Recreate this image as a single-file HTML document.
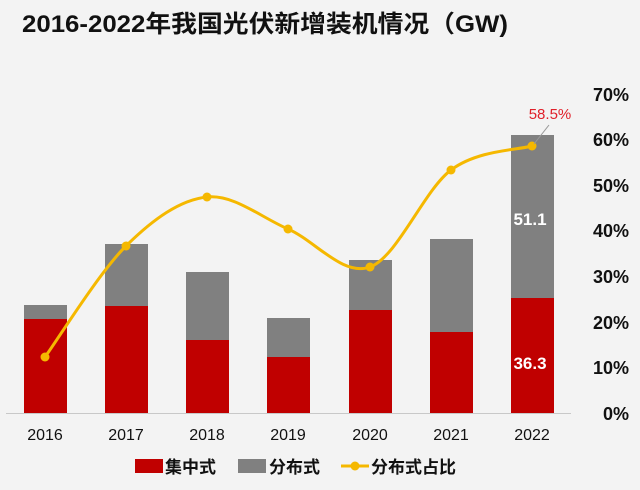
<!DOCTYPE html>
<html><head><meta charset="utf-8"><style>
html,body{margin:0;padding:0;background:#f3f3f3;}
svg{display:block}
text{font-family:"Liberation Sans","Noto Sans CJK SC",sans-serif;}
</style></head><body>
<svg width="640" height="490" viewBox="0 0 640 490" xmlns="http://www.w3.org/2000/svg">
<rect width="640" height="490" fill="#f3f3f3"/>
<text x="22" y="32" font-size="24" font-weight="bold" fill="#111" textLength="486" lengthAdjust="spacingAndGlyphs">2016-2022年我国光伏新增装机情况（GW)</text>
<g fill="#808080">
<rect x="24" y="305" width="43" height="14"/>
<rect x="105" y="244" width="43" height="62"/>
<rect x="186" y="272" width="43" height="68"/>
<rect x="267" y="318" width="43" height="39"/>
<rect x="349" y="260" width="43" height="50"/>
<rect x="430" y="239" width="43" height="93"/>
<rect x="511" y="135" width="43" height="163"/>
</g>
<g fill="#c00000">
<rect x="24" y="319" width="43" height="94"/>
<rect x="105" y="306" width="43" height="107"/>
<rect x="186" y="340" width="43" height="73"/>
<rect x="267" y="357" width="43" height="56"/>
<rect x="349" y="310" width="43" height="103"/>
<rect x="430" y="332" width="43" height="81"/>
<rect x="511" y="298" width="43" height="115"/>
</g>
<line x1="6" y1="413.5" x2="571" y2="413.5" stroke="#c8c8c8" stroke-width="1"/>
<path d="M45,357 C58.5,338.5 99,272.7 126,246 C153,219.3 180,199.8 207,197 C234,194.2 260.8,217.3 288,229 C315.2,240.7 342.8,276.8 370,267 C397.2,257.2 424,190.2 451,170 C478,149.8 518.5,150 532,146" fill="none" stroke="#f5b800" stroke-width="3"/>
<g fill="#f5b800">
<circle cx="45" cy="357" r="4.5"/><circle cx="126" cy="246" r="4.5"/><circle cx="207" cy="197" r="4.5"/><circle cx="288" cy="229" r="4.5"/><circle cx="370" cy="267" r="4.5"/><circle cx="451" cy="170" r="4.5"/><circle cx="532" cy="146" r="4.5"/>
</g>
<line x1="534" y1="144" x2="549" y2="125" stroke="#999" stroke-width="1"/>
<text x="550" y="119" font-size="15" fill="#e0202a" text-anchor="middle">58.5%</text>
<text x="530" y="225" font-size="17" font-weight="bold" fill="#fff" text-anchor="middle">51.1</text>
<text x="530" y="369" font-size="17" font-weight="bold" fill="#fff" text-anchor="middle">36.3</text>
<g font-size="18" font-weight="bold" fill="#111" text-anchor="end">
<text x="629" y="420">0%</text>
<text x="629" y="374">10%</text>
<text x="629" y="329">20%</text>
<text x="629" y="283">30%</text>
<text x="629" y="237">40%</text>
<text x="629" y="192">50%</text>
<text x="629" y="146">60%</text>
<text x="629" y="101">70%</text>
</g>
<g font-size="16" fill="#111" text-anchor="middle">
<text x="45" y="440">2016</text><text x="126" y="440">2017</text><text x="207" y="440">2018</text><text x="288" y="440">2019</text><text x="370" y="440">2020</text><text x="451" y="440">2021</text><text x="532" y="440">2022</text>
</g>
<rect x="135" y="459" width="28" height="14" fill="#c00000"/>
<text x="165" y="473" font-size="17" font-weight="bold" fill="#111">集中式</text>
<rect x="238" y="459" width="28" height="14" fill="#808080"/>
<text x="269" y="473" font-size="17" font-weight="bold" fill="#111">分布式</text>
<line x1="341" y1="466" x2="369" y2="466" stroke="#f5b800" stroke-width="3"/>
<circle cx="355" cy="466" r="4.5" fill="#f5b800"/>
<text x="371" y="473" font-size="17" font-weight="bold" fill="#111">分布式占比</text>
</svg>
</body></html>
